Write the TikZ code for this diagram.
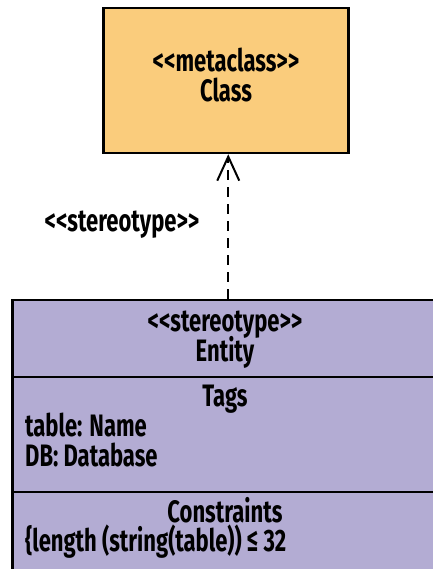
\documentclass[tikz,border=0pt]{standalone}
\usepackage{fontspec}
\newfontfamily\umlfont{Fira Sans}[FakeStretch=0.71]
\usetikzlibrary{arrows.meta,positioning}
\definecolor{metaorange}{RGB}{250,204,124}
\definecolor{entitypurple}{RGB}{179,172,211}

\begin{document}
\begin{tikzpicture}[x=1pt,y=1pt,
    box/.style={rectangle, draw, line width=2.5pt},
    txt/.style={font=\umlfont\fontsize{31}{34}\selectfont\bfseries, inner sep=0pt, anchor=base},
    lefttxt/.style={txt, anchor=base west}]
    \useasboundingbox (0,0) rectangle (432,569);
    \node[box, fill=metaorange, minimum width=245pt, minimum height=145pt] (meta) at (226,488.5) {};
    \node[txt] (metaname) at (226,497) {<<metaclass>>};
    \node[txt] (metaclass) at (226,467) {Class};
    \node[box, fill=entitypurple, minimum width=432pt, minimum height=320pt, anchor=north west] (entity) at (11,270) {};
    \draw[line width=2pt] (entity.west |- 0,192) -- (entity.east |- 0,192);
    \draw[line width=2pt] (entity.west |- 0,77) -- (entity.east |- 0,77);
    \node[txt] (stereo) at (122,337) {<<stereotype>>};
    \draw[line width=2pt, dash pattern=on 10pt off 7pt, -{Straight Barb[length=24pt,width=22pt,line width=2pt]}] (entity.north) -- (entity.north |- meta.south);
    \node[txt] (entstereo) at (225,237) {<<stereotype>>};
    \node[txt] (entname) at (225,207) {Entity};
    \node[txt] (tagshead) at (225,162) {Tags};
    \node[lefttxt] (tagtable) at (25,132) {table: Name};
    \node[lefttxt] (tagdb) at (25,102) {DB: Database};
    \node[txt] (conshead) at (225,46) {Constraints};
    \node[lefttxt] (consrule) at (25,17) {\{length (string(table)) ≤ 32};
\end{tikzpicture}
\end{document}
